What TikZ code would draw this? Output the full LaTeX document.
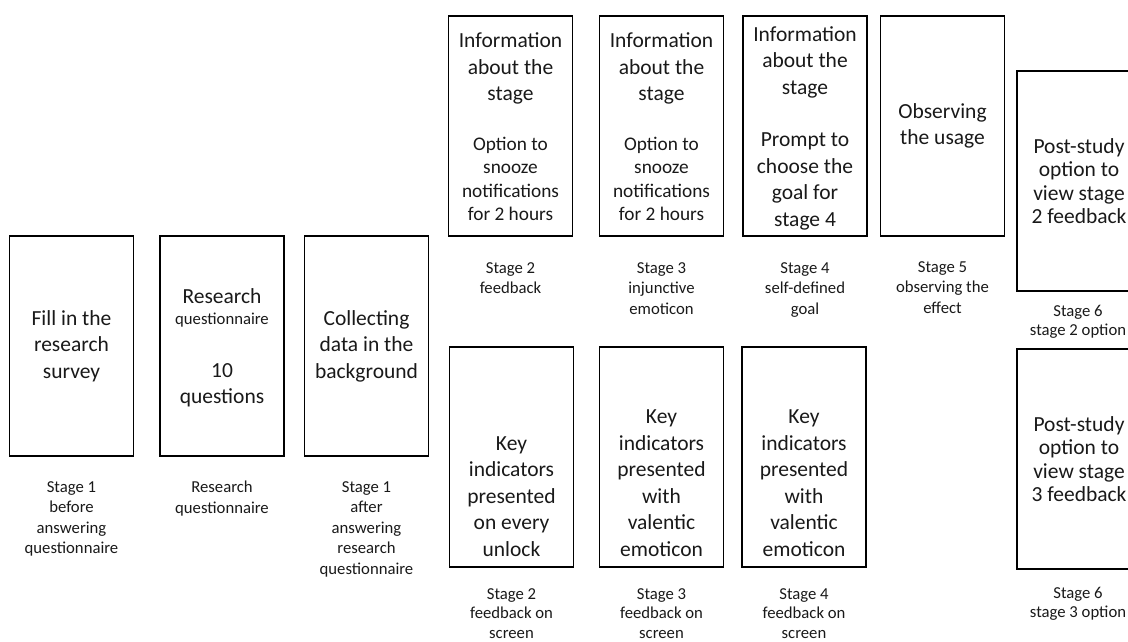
\documentclass[tikz,border=0pt]{standalone}
\usepackage{fontspec}
\setmainfont{Carlito}
\newcommand\smallfs{\fontsize{19.3}{23.5}\selectfont}
\newcommand\lblfs{\fontsize{16.7}{20.5}\selectfont}
\begin{document}
\begin{tikzpicture}[x=1pt,y=-1pt,
  stagebox/.style={draw=black, line width=1.6pt, minimum width=124pt, minimum height=220pt, inner sep=0pt},
  boxtext/.style={align=center, inner sep=0pt, font=\fontsize{21.5}{26.5}\selectfont, text=black!90},
  lbl/.style={align=center, inner sep=0pt, anchor=north, font=\lblfs, text=black!90}]
\useasboundingbox (0,0) rectangle (1128,642);
\clip (0,0) rectangle (1128,642);
% boxes
\node[stagebox] (b1) at (71.5,346) {};
\node[stagebox] (b2) at (222,346) {};
\node[stagebox] (b3) at (366.5,346) {};
\node[stagebox] (t2) at (510.5,126) {};
\node[stagebox] (t3) at (661.5,126) {};
\node[stagebox] (t4) at (805,126) {};
\node[stagebox] (t5) at (942.5,126) {};
\node[stagebox] (p1) at (1079,181) {};
\node[stagebox] (p2) at (1079,459) {};
\node[stagebox] (u2) at (511.5,457) {};
\node[stagebox] (u3) at (661.5,457) {};
\node[stagebox] (u4) at (804,457) {};
% box texts
\node[boxtext] (b1t) at (b1.center) {Fill in the\\research\\survey};
\node[boxtext] (b2t) at ([yshift=-2pt]b2.center) {Research\\[-5.5pt]{\lblfs questionnaire}\\[26.5pt]10\\questions};
\node[boxtext] (b3t) at (b3.center) {Collecting\\data in the\\background};
\node[boxtext] (t2t) at ([yshift=-1pt]t2.center) {Information\\about the\\stage\\[23pt]{\smallfs Option to}\\[-3pt]{\smallfs snooze}\\[-3pt]{\smallfs notifications}\\[-3pt]{\smallfs for 2 hours}};
\node[boxtext] (t3t) at ([yshift=-1pt]t3.center) {Information\\about the\\stage\\[23pt]{\smallfs Option to}\\[-3pt]{\smallfs snooze}\\[-3pt]{\smallfs notifications}\\[-3pt]{\smallfs for 2 hours}};
\node[boxtext] (t4t) at ([yshift=-2pt]t4.center) {Information\\about the\\stage\\[26pt]Prompt to\\choose the\\goal for\\stage 4};
\node[boxtext] (t5t) at (t5.center) {Observing\\the usage};
\node[boxtext] (p1t) at (p1.center) {Post-study\\[-3pt]option to\\[-3pt]view stage\\[-3pt]2 feedback};
\node[boxtext] (p2t) at (p2.center) {Post-study\\[-3pt]option to\\[-3pt]view stage\\[-3pt]3 feedback};
\node[boxtext, anchor=south] (u2t) at ([yshift=11pt]u2.south) {Key\\indicators\\presented\\on every\\unlock};
\node[boxtext, anchor=south] (u3t) at ([yshift=11pt]u3.south) {Key\\indicators\\presented\\with\\valentic\\emoticon};
\node[boxtext, anchor=south] (u4t) at ([yshift=11pt]u4.south) {Key\\indicators\\presented\\with\\valentic\\emoticon};
% labels
\node[lbl] (l1) at (71.5,481) {Stage 1\\before\\answering\\questionnaire};
\node[lbl] (l2) at (222,481) {Research\\questionnaire};
\node[lbl] (l3) at (366.5,481) {Stage 1\\after\\answering\\research\\questionnaire};
\node[lbl] (lt2) at (510.5,262) {Stage 2\\feedback};
\node[lbl] (lt3) at (661.5,262) {Stage 3\\injunctive\\emoticon};
\node[lbl] (lt4) at (805,262) {Stage 4\\self-defined\\goal};
\node[lbl] (lt5) at (942.5,261) {Stage 5\\observing the\\effect};
\node[lbl] (lp1) at (1078,305) {Stage 6\\[-1pt]stage 2 option};
\node[lbl] (lp2) at (1078,587) {Stage 6\\[-1pt]stage 3 option};
\node[lbl] (lu2) at (511.5,588) {Stage 2\\[-1pt]feedback on\\[-1pt]screen};
\node[lbl] (lu3) at (661.5,588) {Stage 3\\[-1pt]feedback on\\[-1pt]screen};
\node[lbl] (lu4) at (804,588) {Stage 4\\[-1pt]feedback on\\[-1pt]screen};
\end{tikzpicture}
\end{document}
